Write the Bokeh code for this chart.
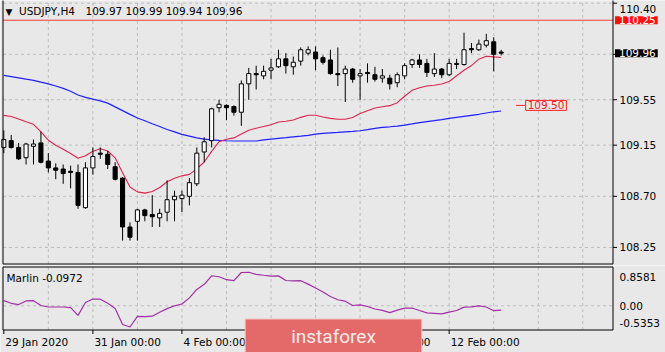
from bokeh.plotting import figure
from bokeh.models import ColumnDataSource, Range1d, Label
from bokeh.core.properties import value
from bokeh.layouts import column
from bokeh.embed import file_html
from bokeh.resources import INLINE

# ---------------- data ----------------
symbol = "USDJPY,H4"
indicator_name = "Marlin"

opens = [109.13, 109.19, 109.13, 109.04, 109.14, 109.17, 109.01, 108.95, 108.94, 108.92,
         108.91, 108.60, 108.95, 109.08, 109.07, 108.96, 108.86, 108.43, 108.48, 108.58,
         108.54, 108.51, 108.56, 108.67, 108.68, 108.70, 108.81, 109.09, 109.19, 109.48,
         109.50, 109.49, 109.44, 109.69, 109.78, 109.76, 109.81, 109.84, 109.91, 109.84,
         109.89, 109.96, 109.97, 109.92, 109.90, 109.78, 109.78, 109.82, 109.76, 109.79,
         109.77, 109.74, 109.74, 109.70, 109.76, 109.86, 109.90, 109.87, 109.78, 109.82,
         109.77, 109.86, 109.86, 110.00, 109.99, 110.03, 110.06, 109.97]
highs = [109.28, 109.24, 109.17, 109.17, 109.20, 109.27, 109.08, 108.99, 108.98, 108.97,
         108.98, 109.00, 109.13, 109.13, 109.10, 109.00, 108.87, 108.47, 108.59, 108.59,
         108.71, 108.59, 108.84, 108.75, 108.75, 108.86, 109.13, 109.22, 109.48, 109.55,
         109.51, 109.50, 109.72, 109.83, 109.85, 109.85, 109.91, 109.99, 109.96, 109.93,
         110.01, 110.02, 110.02, 109.94, 109.99, 110.01, 109.85, 109.83, 109.82, 109.87,
         109.84, 109.82, 109.77, 109.79, 109.87, 109.91, 109.95, 109.91, 109.96, 109.83,
         109.91, 109.91, 110.14, 110.05, 110.08, 110.13, 110.10, 109.99]
lows = [109.08, 109.12, 109.02, 108.98, 108.98, 108.99, 108.91, 108.85, 108.81, 108.77,
        108.59, 108.59, 108.89, 109.03, 108.94, 108.84, 108.31, 108.31, 108.31, 108.48,
        108.43, 108.43, 108.48, 108.48, 108.56, 108.62, 108.79, 109.00, 109.13, 109.44,
        109.37, 109.41, 109.32, 109.55, 109.64, 109.73, 109.73, 109.83, 109.78, 109.77,
        109.85, 109.94, 109.81, 109.86, 109.77, 109.67, 109.53, 109.70, 109.55, 109.70,
        109.71, 109.70, 109.64, 109.66, 109.73, 109.83, 109.83, 109.75, 109.75, 109.74,
        109.76, 109.82, 109.85, 109.96, 109.98, 110.01, 109.80, 109.94]
closes = [109.20, 109.13, 109.03, 109.16, 109.16, 109.00, 108.95, 108.93, 108.90, 108.91,
          108.62, 108.95, 109.05, 109.07, 108.98, 108.85, 108.43, 108.34, 108.58, 108.53,
          108.52, 108.55, 108.67, 108.70, 108.71, 108.82, 109.08, 109.18, 109.47, 109.51,
          109.48, 109.44, 109.69, 109.78, 109.77, 109.80, 109.83, 109.91, 109.85, 109.88,
          109.99, 109.99, 109.91, 109.88, 109.78, 109.77, 109.82, 109.73, 109.78, 109.78,
          109.73, 109.76, 109.69, 109.77, 109.85, 109.90, 109.86, 109.79, 109.82, 109.77,
          109.87, 109.87, 109.99, 109.99, 110.04, 110.07, 109.95, 109.96]

ma_fast = [109.412, 109.402, 109.380, 109.356, 109.334, 109.268, 109.194, 109.150, 109.115, 109.077,
           109.035, 109.057, 109.096, 109.118, 109.099, 109.039, 108.908, 108.782, 108.739, 108.728,
           108.742, 108.777, 108.828, 108.858, 108.880, 108.893, 108.941, 109.002, 109.096, 109.181,
           109.202, 109.214, 109.248, 109.281, 109.299, 109.314, 109.330, 109.354, 109.361, 109.372,
           109.395, 109.413, 109.413, 109.398, 109.386, 109.378, 109.378, 109.393, 109.429, 109.454,
           109.478, 109.488, 109.498, 109.524, 109.581, 109.633, 109.656, 109.671, 109.677, 109.688,
           109.711, 109.761, 109.809, 109.851, 109.907, 109.933, 109.927, 109.922]
ma_slow = [109.764, 109.753, 109.742, 109.731, 109.721, 109.705, 109.690, 109.671, 109.650, 109.625,
           109.592, 109.571, 109.555, 109.540, 109.520, 109.487, 109.454, 109.421, 109.389, 109.365,
           109.339, 109.314, 109.288, 109.267, 109.245, 109.230, 109.215, 109.204, 109.197, 109.192,
           109.189, 109.187, 109.187, 109.187, 109.187, 109.196, 109.204, 109.210, 109.216, 109.223,
           109.229, 109.237, 109.247, 109.254, 109.258, 109.262, 109.267, 109.271, 109.277, 109.287,
           109.298, 109.307, 109.312, 109.318, 109.327, 109.337, 109.349, 109.358, 109.366, 109.375,
           109.386, 109.395, 109.404, 109.413, 109.422, 109.433, 109.444, 109.451]
marlin = [0.115, 0.055, 0.027, 0.108, 0.113, 0.007, -0.027, -0.027, -0.027, -0.042,
          -0.212, 0.073, 0.150, 0.146, 0.058, -0.058, -0.414, -0.469, -0.232, -0.239,
          -0.230, -0.144, -0.062, 0.000, 0.040, 0.175, 0.361, 0.476, 0.664, 0.642,
          0.577, 0.558, 0.737, 0.741, 0.695, 0.675, 0.657, 0.662, 0.560, 0.553,
          0.555, 0.480, 0.394, 0.305, 0.204, 0.133, 0.102, 0.007, 0.020, -0.015,
          -0.071, -0.102, -0.150, -0.097, -0.053, -0.049, -0.104, -0.155, -0.166, -0.177,
          -0.139, -0.104, -0.029, -0.024, 0.000, -0.027, -0.108, -0.0972]

date_ticks = [0, 12, 24, 36, 48, 60]
date_labels = ["29 Jan 2020", "31 Jan 00:00", "4 Feb 00:00", "6 Feb 00:00", "10 Feb 00:00", "12 Feb 00:00"]
bars_per_day = 6

price_ticks = [108.25, 108.70, 109.15, 109.55, 109.95, 110.40]
price_tick_labels = ["108.25", "108.70", "109.15", "109.55", "", "110.40"]
marlin_max = 0.8581
marlin_min = -0.5353
resistance = 110.25
level_price = 109.50

# ---------------- layout / style ----------------
W = 665
MAIN_H, SUB_H = 265, 87
PX = 7.423            # pixels per bar
BAR0_PX = 3.3         # pixel of the first bar
PPU = 113.6           # pixels per price unit (main panel)
ANCHOR_P, ANCHOR_Y = price_ticks[4], 53.8
AREA_L, AREA_R = 2.5, 612.5          # chart area border pixels
MAIN_BOTTOM = 263.5
SUB_TOP, SUB_BOTTOM = 1.5, 64.5      # local pixels in the sub panel
LABEL_MIN_Y = 8                      # keep scale labels inside the picture
BG = "#e8e8e8"
GRID = "#bcbcbc"
FONT = "DejaVu Sans"
FS = "10.5px"


def bar_at(px):
    return (px - BAR0_PX) / PX


def price_at(y):
    return ANCHOR_P - (y - ANCHOR_Y) / PPU


def y_of_price(pr):
    return ANCHOR_Y + (ANCHOR_P - pr) * PPU


SPPU = (SUB_BOTTOM - SUB_TOP) / (marlin_max - marlin_min)


def mval_at(y):
    return marlin_max - (y - SUB_TOP) / SPPU


X_LEFT, X_EDGE = bar_at(AREA_L), bar_at(AREA_R)
x_range = Range1d(bar_at(0), bar_at(W))

bars = list(range(len(opens)))
src = ColumnDataSource(dict(
    x=bars, h=highs, l=lows,
    top=[max(o, c) for o, c in zip(opens, closes)],
    bottom=[min(o, c) for o, c in zip(opens, closes)],
    fill=["white" if c >= o else "black" for o, c in zip(opens, closes)],
))
day_grid = [d for d in range(0, int(X_EDGE) + 1, bars_per_day) if d > X_LEFT + 1]


def make_fig(h, yr):
    f = figure(width=W, height=h, x_range=x_range, y_range=yr,
               output_backend="svg", toolbar_location=None,
               x_axis_location=None, y_axis_location=None,
               min_border=0, min_border_left=0, min_border_right=0,
               min_border_top=0, min_border_bottom=0,
               background_fill_color=BG, border_fill_color=BG,
               outline_line_color=None)
    f.xgrid.visible = False
    f.ygrid.visible = False
    return f


# ---------------- main price panel ----------------
p = make_fig(MAIN_H, Range1d(price_at(MAIN_H), price_at(0)))
P_TOP, P_BOT = price_at(-2), price_at(MAIN_BOTTOM)

# grid
p.segment(x0=day_grid, x1=day_grid, y0=[P_BOT] * len(day_grid), y1=[P_TOP] * len(day_grid),
          line_color=GRID, line_dash="3 3", line_width=1)
p.segment(x0=[X_LEFT] * len(price_ticks), x1=[X_EDGE] * len(price_ticks),
          y0=price_ticks, y1=price_ticks, line_color=GRID, line_dash="3 3", line_width=1)

# resistance line
p.segment(x0=[X_LEFT], x1=[X_EDGE], y0=[resistance], y1=[resistance],
          line_color="#ff3b3b", line_width=1)

p.line(bars, ma_slow, line_color="#1f1fff", line_width=1.2)
p.line(bars, ma_fast, line_color="#e0234f", line_width=1.1)

p.segment(x0="x", y0="h", x1="x", y1="l", source=src, line_color="black", line_width=1)
p.vbar(x="x", width=0.55, top="top", bottom="bottom", fill_color="fill",
       line_color="black", line_width=1, source=src)

# chart area border
p.quad(left=[X_LEFT], right=[X_EDGE], top=[P_TOP], bottom=[P_BOT],
       fill_color=None, line_color="black", line_width=1)

# right price scale
tick_len = 4 / PX
p.segment(x0=[X_EDGE] * len(price_ticks), x1=[X_EDGE + tick_len] * len(price_ticks),
          y0=price_ticks, y1=price_ticks, line_color="black", line_width=1)
label_y = [price_at(max(y_of_price(t), LABEL_MIN_Y)) for t in price_ticks]
p.text(x=[X_EDGE + 6.5 / PX] * len(price_ticks), y=label_y, text=price_tick_labels,
       text_font=value(FONT), text_font_size=value(FS), text_color="black",
       text_align="left", text_baseline="middle")

# level label 109.50
n = len(bars)
p.segment(x0=[n + 1.0], y0=[level_price], x1=[n + 2.2], y1=[level_price],
          line_color="#ff2020", line_width=1)
p.add_layout(Label(x=n + 2.3, y=level_price, text=f"{level_price:.2f}",
                   text_font=FONT, text_font_size=FS, text_color="#ff1a1a",
                   text_align="left", text_baseline="middle",
                   border_line_color="#ff2020", border_line_width=1,
                   background_fill_color=BG,
                   padding=dict(left=2, right=2, top=1, bottom=1)))

# price boxes on the scale
for price, bg in ((resistance, "#ff1010"), (closes[-1], "black")):
    p.add_layout(Label(x=X_EDGE + 2 / PX, y=price, text=f"{price:.2f}",
                       text_font=FONT, text_font_size=FS, text_color="white",
                       text_align="left", text_baseline="middle",
                       background_fill_color=bg,
                       padding=dict(left=4, right=2, top=0, bottom=0), level="overlay"))

# title
p.add_layout(Label(x=5, y=MAIN_H - 11, x_units="screen", y_units="screen",
                   text="▼", text_font=FONT, text_font_size="9px", text_color="black",
                   text_align="left", text_baseline="middle"))
p.add_layout(Label(x=18.5, y=MAIN_H - 10, x_units="screen", y_units="screen",
                   text=symbol, text_font=FONT, text_font_size=FS, text_color="black",
                   text_align="left", text_baseline="middle"))
p.add_layout(Label(x=85, y=MAIN_H - 10, x_units="screen", y_units="screen",
                   text=" ".join(f"{v:.2f}" for v in (opens[-1], highs[-1], lows[-1], closes[-1])),
                   text_font=FONT, text_font_size=FS, text_color="black",
                   text_align="left", text_baseline="middle"))

# ---------------- Marlin panel ----------------
p2 = make_fig(SUB_H, Range1d(mval_at(SUB_H), mval_at(0)))
S_TOP, S_BOT = marlin_max, marlin_min

p2.segment(x0=day_grid, x1=day_grid, y0=[S_BOT] * len(day_grid), y1=[S_TOP] * len(day_grid),
           line_color=GRID, line_dash="3 3", line_width=1)
p2.segment(x0=[X_LEFT], x1=[X_EDGE], y0=[0.0], y1=[0.0],
           line_color=GRID, line_dash="3 3", line_width=1)

p2.line(bars, marlin, line_color="#a32fa6", line_width=1.2)

p2.quad(left=[X_LEFT], right=[X_EDGE], top=[S_TOP], bottom=[S_BOT],
        fill_color=None, line_color="black", line_width=1)

# right scale of the indicator (max / zero / min, MT4 style inset)
sub_label_y = [mval_at(11), 0.0, mval_at(57.5)]
sub_label_txt = [f"{marlin_max:.4f}", "0.00", f"{marlin_min:.4f}"]
p2.text(x=[X_EDGE + 6.5 / PX] * 3, y=sub_label_y, text=sub_label_txt,
        text_font=value(FONT), text_font_size=value(FS), text_color="black",
        text_align="left", text_baseline="middle")

# time scale
p2.segment(x0=date_ticks, x1=date_ticks, y0=[S_BOT] * len(date_ticks),
           y1=[mval_at(SUB_BOTTOM + 4)] * len(date_ticks), line_color="black", line_width=1)
p2.text(x=[t + 1.5 / PX for t in date_ticks], y=[mval_at(76)] * len(date_ticks), text=date_labels,
        text_font=value(FONT), text_font_size=value(FS), text_color="black",
        text_align="left", text_baseline="middle")

p2.add_layout(Label(x=6, y=SUB_H - 12, x_units="screen", y_units="screen",
                    text=f"{indicator_name} {marlin[-1]:.4f}", text_font=FONT, text_font_size=FS,
                    text_color="black", text_align="left", text_baseline="middle"))

# watermark
p2.add_layout(Label(x=333, y=16, x_units="screen", y_units="screen",
                    text="instaforex", text_font="Roboto", text_font_size="19px",
                    text_color="#fbeaea", text_align="center", text_baseline="middle",
                    background_fill_color="#e46a6a", border_line_color="#f3c4c4",
                    border_line_width=1,
                    padding=dict(left=46, right=46, top=6, bottom=6), level="overlay"))

layout = column(p, p2, spacing=0)
open("out.html", "w").write(file_html(layout, INLINE))
